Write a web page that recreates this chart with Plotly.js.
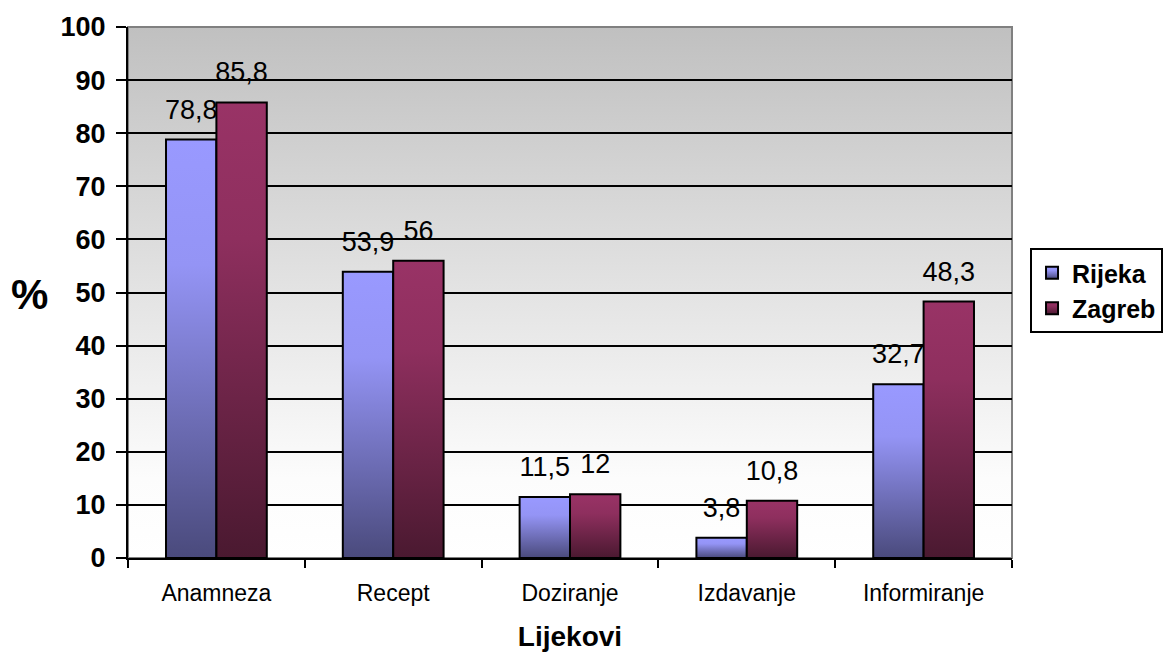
<!DOCTYPE html>
<html><head><meta charset="utf-8">
<script src="https://cdn.plot.ly/plotly-3.0.1.min.js"></script>
<style>html,body{margin:0;padding:0;background:#fff}</style>
</head><body>
<div id="chart" style="width:1164px;height:652px"></div>
<script>
const categories = ['Anamneza', 'Recept', 'Doziranje', 'Izdavanje', 'Informiranje'];
const rijeka = [78.8, 53.9, 11.5, 3.8, 32.7];
const zagreb = [85.8, 56, 12, 10.8, 48.3];
const yTicks = [0, 10, 20, 30, 40, 50, 60, 70, 80, 90, 100];
const seriesNames = ['Rijeka', 'Zagreb'];

const fmt = v => String(v).replace('.', ',');
const F = 'Arial, "Liberation Sans", sans-serif';

function barTrace(name, vals, color) {
  return {
    type: 'bar', name: name, x: categories, y: vals,
    text: vals.map(fmt), textposition: 'outside', constraintext: 'none', cliponaxis: false,
    textfont: {family: F, size: 27, color: '#000'},
    marker: {color: color, line: {color: '#000', width: 2}},
    hoverinfo: 'none'
  };
}
const traces = [barTrace(seriesNames[0], rijeka, '#9999ff'), barTrace(seriesNames[1], zagreb, '#993366')];

const layout = {
  width: 1164, height: 652,
  margin: {l: 128, r: 152, t: 27, b: 94},
  paper_bgcolor: '#ffffff', plot_bgcolor: '#e0e0e0',
  bargap: 0.43, bargroupgap: 0, barmode: 'group',
  showlegend: true,
  xaxis: {
    type: 'category', tickson: 'boundaries', ticks: 'outside', ticklen: 8, tickwidth: 2, tickcolor: '#000',
    showline: true, linecolor: '#000', linewidth: 2, showgrid: false, zeroline: false,
    tickfont: {family: F, size: 23, color: '#000'}, ticklabelstandoff: 13,
    title: {text: 'Lijekovi', font: {family: F, size: 28, color: '#000', weight: 'bold'}, standoff: 22}
  },
  yaxis: {
    range: [0, 100], tickvals: yTicks, ticktext: yTicks.map(String), ticks: 'outside', ticklen: 10, tickwidth: 2, tickcolor: '#000',
    showline: true, linecolor: '#000', linewidth: 2, showgrid: true, gridcolor: '#000', gridwidth: 2, zeroline: false,
    tickfont: {family: F, size: 27, color: '#000', weight: 'bold'}, ticklabelstandoff: 5
  },
  legend: {
    xref: 'container', yref: 'container',
    x: 0.8849, xanchor: 'left', y: 0.6196, yanchor: 'top',
    bgcolor: '#ffffff', bordercolor: '#000', borderwidth: 2,
    font: {family: F, size: 25, color: '#000', weight: 'bold'},
    itemclick: false, itemdoubleclick: false
  },
  shapes: [{
    type: 'rect', xref: 'paper', yref: 'paper', x0: 0, x1: 1, y0: 0, y1: 1,
    line: {color: '#808080', width: 2}, fillcolor: 'rgba(0,0,0,0)', layer: 'below'
  }],
  annotations: [{
    text: '%', xref: 'paper', yref: 'paper', x: -0.111, y: 0.497, xanchor: 'center', yanchor: 'middle',
    showarrow: false, font: {family: F, size: 42, color: '#000', weight: 'bold'}
  }]
};

function applyGradients() {
  const svg = document.querySelector('#chart svg.main-svg');
  if (!svg) return;
  const ns = 'http://www.w3.org/2000/svg';
  if (!document.getElementById('gradBg')) {
    const defs = document.createElementNS(ns, 'defs');
    const mk = (id, stops) => {
      const g = document.createElementNS(ns, 'linearGradient');
      g.setAttribute('id', id);
      g.setAttribute('x1', '0'); g.setAttribute('y1', '0'); g.setAttribute('x2', '0'); g.setAttribute('y2', '1');
      stops.forEach(([o, c]) => {
        const s = document.createElementNS(ns, 'stop');
        s.setAttribute('offset', o); s.setAttribute('stop-color', c);
        g.appendChild(s);
      });
      defs.appendChild(g);
    };
    mk('gradBg', [[0, '#c0c0c0'], [0.85, '#fcfcfc'], [1, '#ffffff']]);
    mk('gradR', [[0, '#9999ff'], [0.3, '#9494f5'], [1, '#4a4a7c']]);
    mk('gradZ', [[0, '#993366'], [0.3, '#8e2f5e'], [1, '#4a1930']]);
    svg.insertBefore(defs, svg.firstChild);
  }
  document.querySelectorAll('#chart rect.bg').forEach(r => {
    if (!r.closest('.legend')) r.style.fill = 'url(#gradBg)';
  });
  const grads = ['url(#gradR)', 'url(#gradZ)'];
  document.querySelectorAll('#chart .barlayer .trace').forEach((t, i) => {
    t.querySelectorAll('.point path').forEach(p => { p.style.fill = grads[i % 2]; });
    t.querySelectorAll('.point text').forEach(tx => {
      if (!tx.dataset.lifted) {
        tx.setAttribute('transform', 'translate(0,-12) ' + (tx.getAttribute('transform') || ''));
        tx.dataset.lifted = '1';
      }
    });
  });
  document.querySelectorAll('#chart .legend .traces').forEach((t, i) => {
    t.querySelectorAll('.legendpoints path').forEach(p => { p.style.fill = grads[i % 2]; });
  });
}

Plotly.newPlot('chart', traces, layout, {displayModeBar: false}).then(gd => {
  applyGradients();
  gd.on('plotly_afterplot', applyGradients);
});
</script>
</body></html>
